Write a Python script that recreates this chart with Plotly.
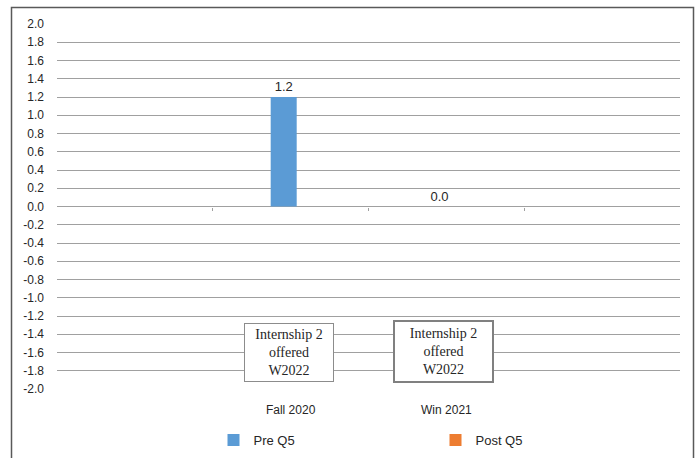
import plotly.graph_objects as go

categories = ["Fall 2020", "Win 2021"]
pre_q5 = [1.2, 0.0]
post_q5 = [None, None]
y_ticks = [round(-2.0 + 0.2 * i, 1) for i in range(21)]
note_text = "Internship 2<br>offered<br>W2022"

W, H = 699, 458
L, R, T, B = 57, 19, 24, 69
pw, ph = W - L - R, H - T - B

def px(x):
    return (x - L) / pw

def py(y):
    return (H - B - y) / ph

fig = go.Figure()
fig.add_trace(go.Bar(
    x=categories, y=pre_q5, name="Pre Q5",
    marker=dict(color="#5B9BD5", line=dict(width=0)),
    width=0.167, offset=-0.128,
    text=[f"{v:.1f}" for v in pre_q5], textposition="outside",
    textfont=dict(family="Liberation Sans", size=13, color="#262626"),
    cliponaxis=False,
))
fig.add_trace(go.Bar(
    x=categories, y=post_q5, name="Post Q5",
    marker=dict(color="#ED7D31", line=dict(width=0)),
    width=0.167, offset=0.04,
))
# empty helper trace so the boundary-tick axis on the zero line is drawn
fig.add_trace(go.Scatter(x=[], y=[], xaxis="x2", showlegend=False, hoverinfo="skip"))

fig.update_layout(
    width=W, height=H,
    margin=dict(l=L, r=R, t=T, b=B, pad=0, autoexpand=False),
    paper_bgcolor="white", plot_bgcolor="white",
    barmode="group",
    showlegend=True,
    legend=dict(
        orientation="h", x=0.5 + 67 / pw, xanchor="center", y=py(440), yanchor="middle",
        entrywidth=177, entrywidthmode="pixels",
        font=dict(family="Liberation Sans", size=13, color="#262626"),
        itemwidth=30, bgcolor="rgba(0,0,0,0)",
    ),
    xaxis=dict(
        type="category", range=[-1.5, 2.5], showgrid=False, showline=False,
        ticks="", zeroline=False,
        tickfont=dict(family="Liberation Sans", size=12, color="#262626"),
        ticklabelstandoff=12,
    ),
    xaxis2=dict(
        overlaying="x", anchor="free", position=0.5, range=[-1.5, 2.5],
        tickmode="array", tickvals=[-0.5, 0.5, 1.5], showticklabels=False,
        ticks="outside", ticklen=3, tickcolor="#a0a0a0", showline=False,
        showgrid=False, zeroline=False, fixedrange=True,
    ),
    yaxis=dict(
        range=[-2.0, 2.0], tickmode="array", tickvals=y_ticks,
        ticktext=[f"{v:.1f}" for v in y_ticks],
        showgrid=True, gridcolor="#a0a0a0", gridwidth=1,
        zeroline=True, zerolinecolor="#a0a0a0", zerolinewidth=1,
        showline=False, ticks="",
        tickfont=dict(family="Liberation Sans", size=12, color="#262626"),
        ticklabelstandoff=12,
    ),
    shapes=[dict(
        type="rect", xref="paper", yref="paper",
        x0=px(11.5), x1=px(693.5), y0=py(470), y1=py(7.5),
        line=dict(color="#595959", width=1.5), fillcolor="rgba(0,0,0,0)",
        layer="below",
    )],
    annotations=[
        dict(xref="paper", yref="paper", x=px(289), y=py(352.5),
             xanchor="center", yanchor="middle",
             text=note_text, showarrow=False, align="center",
             font=dict(family="Liberation Serif", size=14, color="#262626"),
             bordercolor="#8c8c8c", borderwidth=1, borderpad=1,
             bgcolor="white", width=86, height=55),
        dict(xref="paper", yref="paper", x=px(443.5), y=py(351.5),
             xanchor="center", yanchor="middle",
             text=note_text, showarrow=False, align="center",
             font=dict(family="Liberation Serif", size=14, color="#262626"),
             bordercolor="#808080", borderwidth=2, borderpad=1,
             bgcolor="white", width=95, height=57),
    ],
)

fig.write_html("out.html")
